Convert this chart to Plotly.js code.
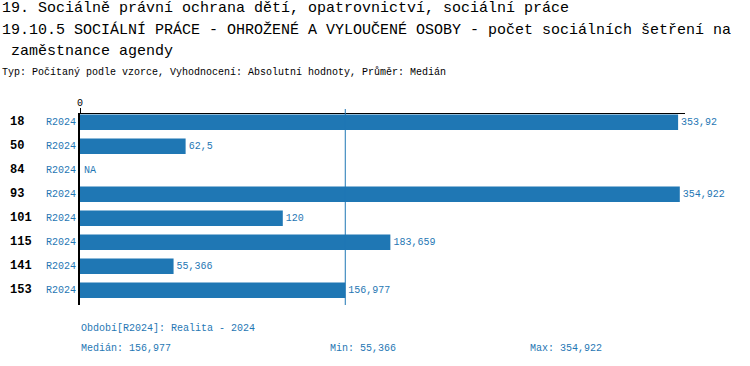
<!DOCTYPE html>
<html>
<head>
<meta charset="utf-8">
<script src="https://cdn.plot.ly/plotly-3.0.1.min.js"></script>
<style>
  html, body { margin: 0; padding: 0; background: #fff; }
  #chart { width: 750px; height: 366px; }
</style>
</head>
<body>
<div id="chart"></div>
<script>
// ---- data ----
const categories = ['18', '50', '84', '93', '101', '115', '141', '153'];
const periodLabel = 'R2024';
const values = [353.92, 62.5, null, 354.922, 120, 183.659, 55.366, 156.977];
const titleLine1 = '19. Sociálně právní ochrana dětí, opatrovnictví, sociální práce';
const titleLine2 = '19.10.5 SOCIÁLNÍ PRÁCE - OHROŽENÉ A VYLOUČENÉ OSOBY - počet sociálních šetření na';
const titleLine3 = ' zaměstnance agendy';
const subtitle = 'Typ: Počítaný podle vzorce, Vyhodnocení: Absolutní hodnoty, Průměr: Medián';
const periodNote = 'Období[R2024]: Realita - 2024';
const xRangeMax = 358;

// ---- helpers ----
const fmt = v => String(v).replace('.', ',');
const valid = values.filter(v => v !== null).slice().sort((a, b) => a - b);
const median = valid.length % 2 ? valid[(valid.length - 1) / 2]
  : (valid[valid.length / 2 - 1] + valid[valid.length / 2]) / 2;
const minV = valid[0];
const maxV = valid[valid.length - 1];

const BLUE = 'rgb(31,119,180)';
const FONT = 'Liberation Mono, DejaVu Sans Mono, monospace';

// plot area in pixels
const L = 80, T = 114, W = 605, H = 191;
const px = x => (x - L) / W;          // pixel x -> paper x
const py = y => (T + H - y) / H;      // pixel y -> paper y

const trace = {
  type: 'bar',
  orientation: 'h',
  y: categories,
  x: values,
  text: values.map(v => v === null ? '' : fmt(v)),
  textposition: 'outside',
  cliponaxis: false,
  textfont: { family: FONT, size: 10, color: BLUE },
  marker: { color: BLUE },
  hoverinfo: 'none'
};

const annotations = [];
function txt(text, xp, yp, size, color, anchor) {
  annotations.push({
    xref: 'paper', yref: 'paper', x: px(xp), y: py(yp),
    xanchor: anchor || 'left', yanchor: 'middle', showarrow: false,
    text: text,
    font: { family: FONT, size: size, color: color }
  });
}
txt(titleLine1, 0, 9, 15, '#000');
txt(titleLine2, 0, 30, 15, '#000');
txt(titleLine3.replace(' ', '&nbsp;'), 0, 51, 15, '#000');
txt(subtitle, 0, 72, 10, '#000');
txt(periodNote, 79, 328, 10, BLUE);
txt('Medián: ' + fmt(median), 79, 348, 10, BLUE);
txt('Min: ' + fmt(minV), 328, 348, 10, BLUE);
txt('Max: ' + fmt(maxV), 528, 348, 10, BLUE);

// on a category axis, annotation positions are category serial numbers
categories.forEach((c, i) => {
  annotations.push({
    xref: 'paper', yref: 'y', x: px(8), y: i, xanchor: 'left', yanchor: 'middle',
    showarrow: false, text: '<b>' + c + '</b>',
    font: { family: FONT, size: 12, color: '#000' }
  });
  annotations.push({
    xref: 'paper', yref: 'y', x: px(78), y: i, xanchor: 'right', yanchor: 'middle',
    showarrow: false, text: periodLabel,
    font: { family: FONT, size: 10, color: BLUE }
  });
  if (values[i] === null) {
    annotations.push({
      xref: 'x', yref: 'y', x: 0, y: i, xanchor: 'left', yanchor: 'middle',
      xshift: 2, showarrow: false, text: 'NA',
      font: { family: FONT, size: 10, color: BLUE }
    });
  }
});

const layout = {
  width: 750, height: 366,
  margin: { l: L, r: 750 - L - W, t: T, b: 366 - T - H, pad: 0 },
  paper_bgcolor: '#fff', plot_bgcolor: '#fff',
  showlegend: false,
  bargap: 0.354,
  font: { family: FONT },
  xaxis: {
    side: 'top', range: [0, xRangeMax], showgrid: false, zeroline: false,
    tickvals: [0], ticktext: ['0'], ticks: 'outside', ticklen: 5, tickcolor: '#000',
    ticklabelstandoff: -2,
    tickfont: { family: FONT, size: 10, color: '#000' },
    showline: true, linecolor: '#000', linewidth: 1, fixedrange: true
  },
  yaxis: {
    type: 'category', categoryorder: 'array', categoryarray: categories,
    range: [categories.length - 0.388, -0.346], showticklabels: false,
    showgrid: false, zeroline: false, showline: true, linecolor: '#000', linewidth: 2,
    ticks: '', fixedrange: true
  },
  shapes: [{
    type: 'line', xref: 'x', yref: 'paper', x0: median, x1: median, y0: 0, y1: py(109),
    line: { color: BLUE, width: 1 }
  }],
  annotations: annotations
};

Plotly.newPlot('chart', [trace], layout, { displayModeBar: false, staticPlot: true });
</script>
</body>
</html>
